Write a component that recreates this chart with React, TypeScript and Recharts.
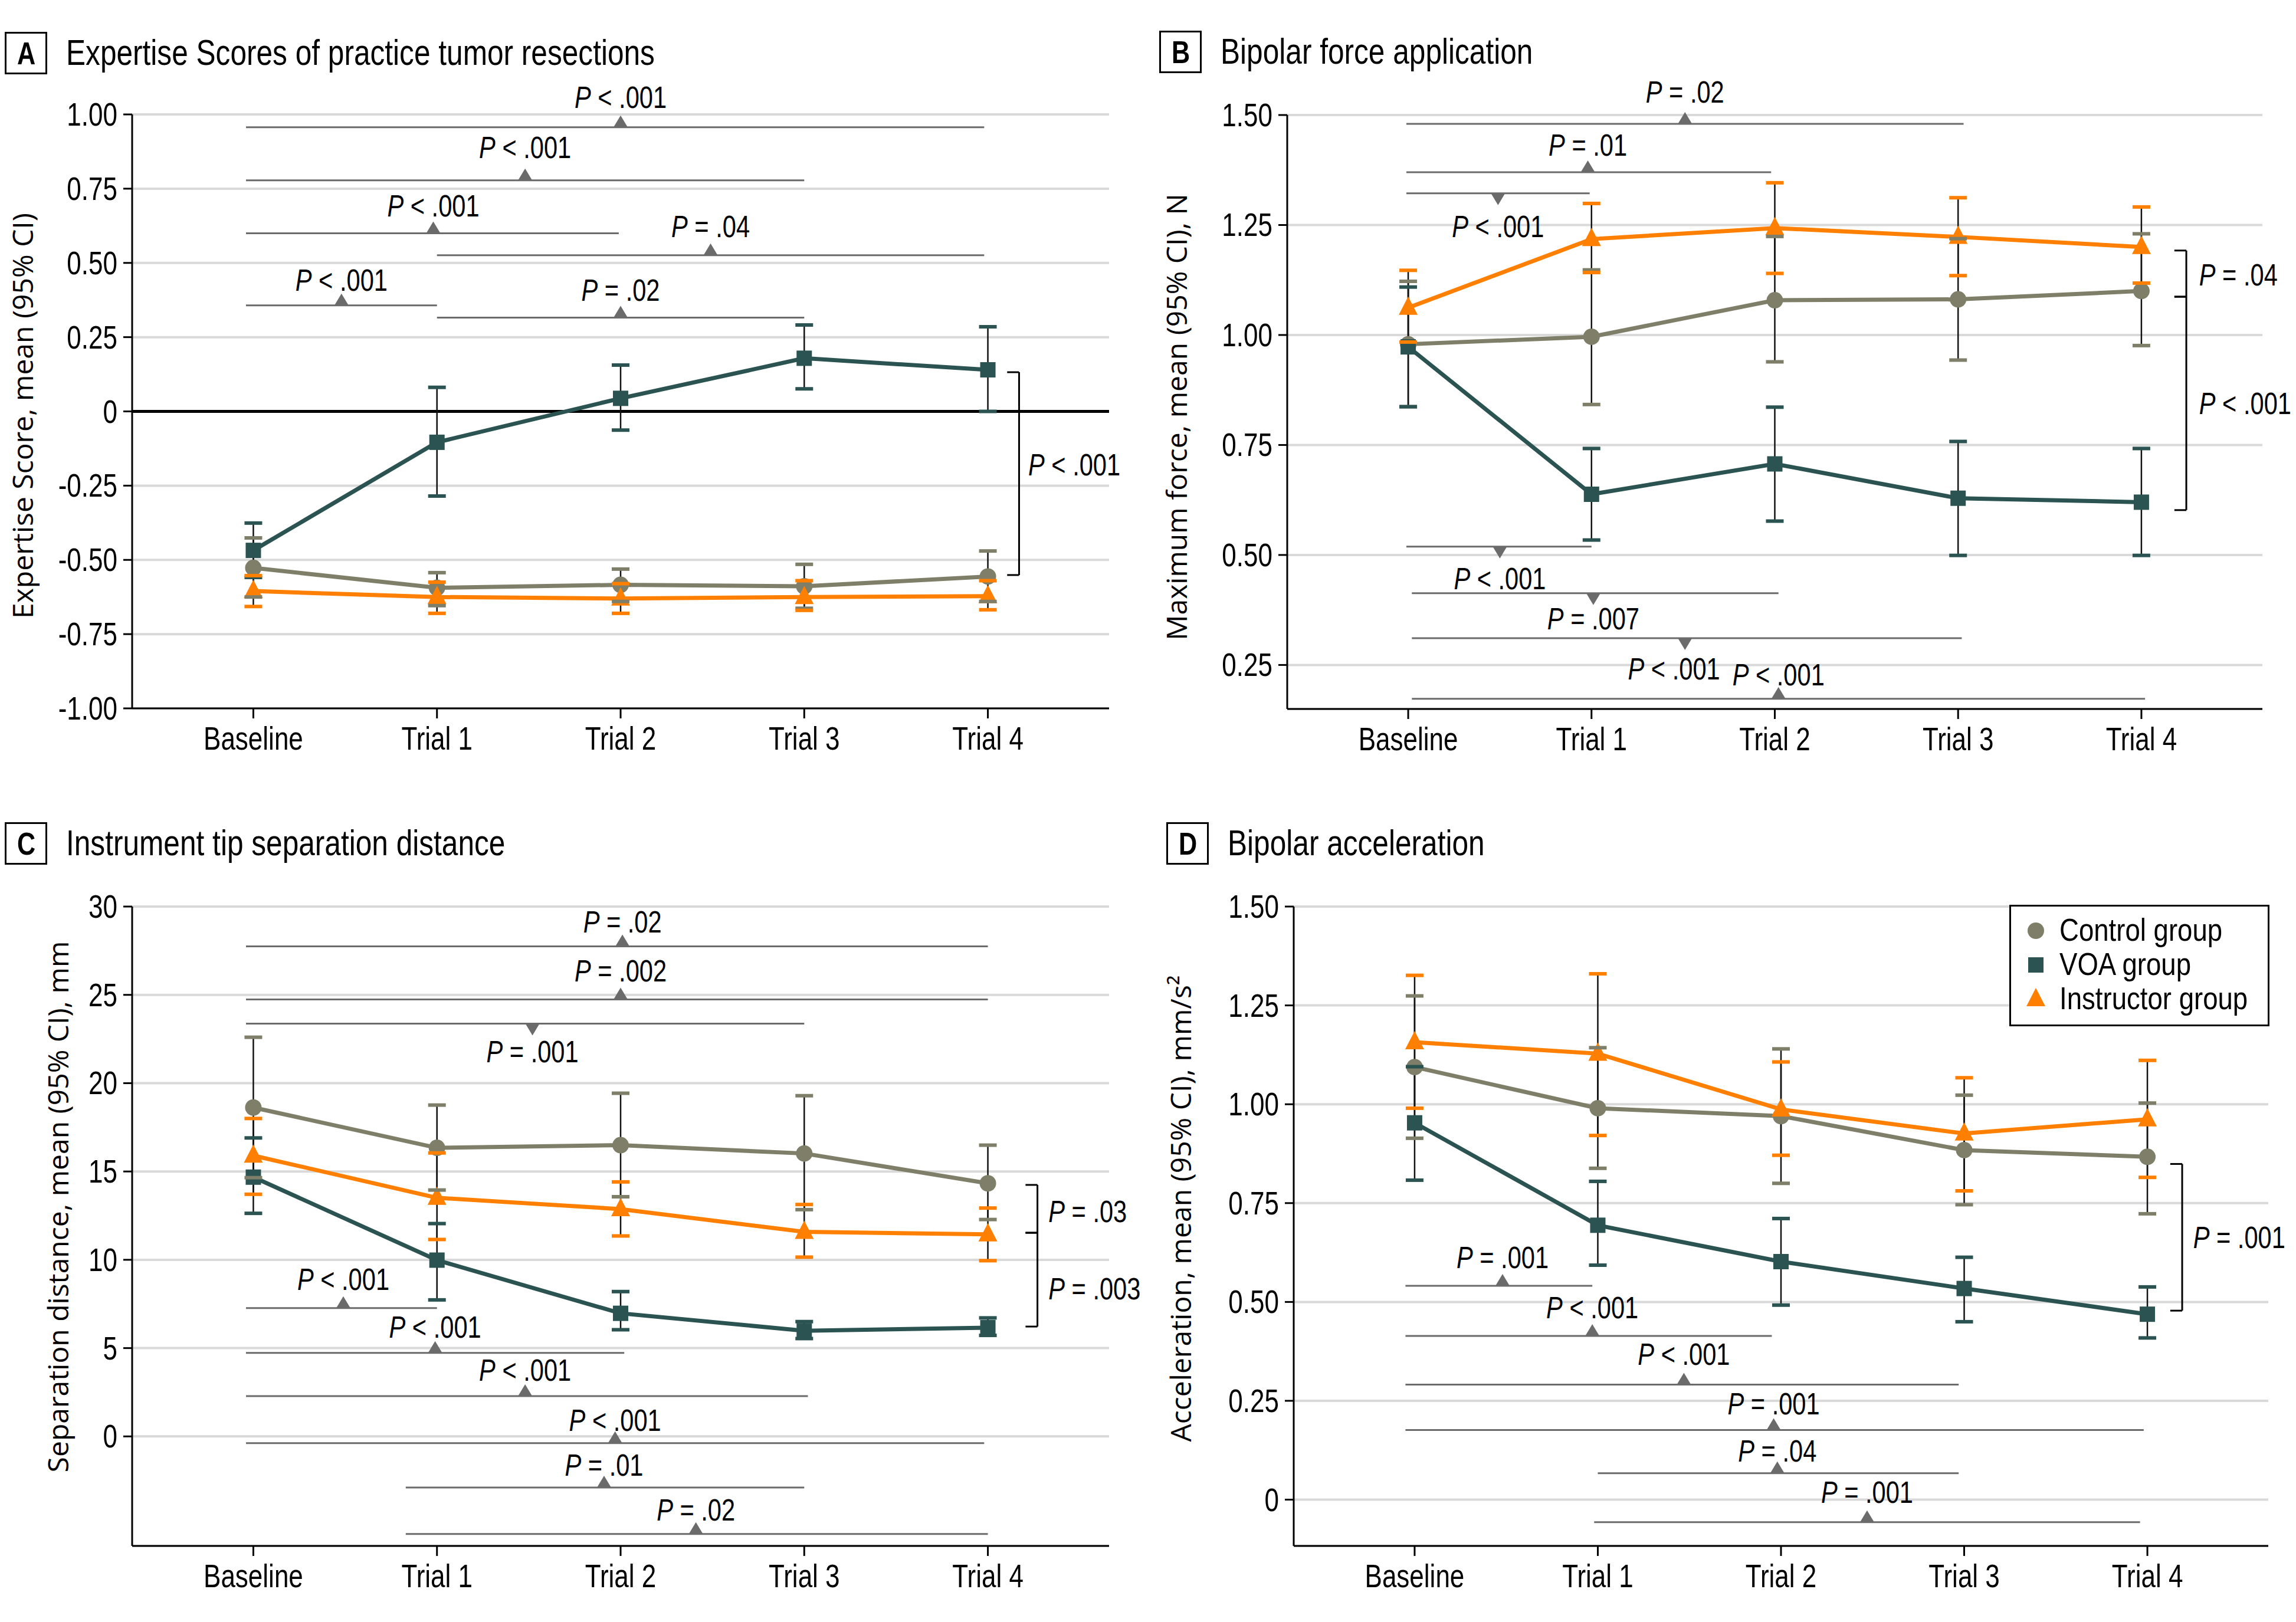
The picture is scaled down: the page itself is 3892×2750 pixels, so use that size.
import React from 'react';
import { ComposedChart, Line, XAxis, YAxis, CartesianGrid, ErrorBar, ReferenceLine, ReferenceDot, Legend } from 'recharts';

const SANS = "'Liberation Sans', Arial, sans-serif";
const WIDE = "'Open Sans', 'DejaVu Sans', sans-serif";
const SQUEEZE = 0.8; // the figure uses a condensed face

const CTL = '#7f7f69';
const VOA = '#2a5351';
const INS = '#ff8000';
const ANN = '#6b6b6b';

const trials = ['Baseline', 'Trial 1', 'Trial 2', 'Trial 3', 'Trial 4'];
const trialPos = [0, 1, 2, 3, 4];

// A - expertise score
const aCtl = [-0.527, -0.594, -0.584, -0.589, -0.556];
const aCtlLo = [-0.625, -0.654, -0.64, -0.663, -0.64];
const aCtlHi = [-0.426, -0.543, -0.531, -0.515, -0.47];
const aVoa = [-0.468, -0.104, 0.044, 0.179, 0.14];
const aVoaLo = [-0.559, -0.285, -0.063, 0.076, 0.0];
const aVoaHi = [-0.376, 0.081, 0.156, 0.291, 0.285];
const aIns = [-0.605, -0.625, -0.63, -0.625, -0.622];
const aInsLo = [-0.657, -0.68, -0.68, -0.67, -0.668];
const aInsHi = [-0.553, -0.575, -0.58, -0.57, -0.57];
const aTicks = [-1, -0.75, -0.5, -0.25, 0, 0.25, 0.5, 0.75, 1];
const aBars = [
  { x1: -0.04, x2: 3.98, y: 0.957, tx: 2.0, dir: 'up', ly: 1.06, t: ' < .001' },
  { x1: -0.04, x2: 3.0, y: 0.778, tx: 1.48, dir: 'up', ly: 0.89, t: ' < .001' },
  { x1: -0.04, x2: 1.99, y: 0.6, tx: 0.98, dir: 'up', ly: 0.694, t: ' < .001' },
  { x1: 1.0, x2: 3.98, y: 0.526, tx: 2.49, dir: 'up', ly: 0.625, t: ' = .04' },
  { x1: -0.04, x2: 1.0, y: 0.357, tx: 0.48, dir: 'up', ly: 0.444, t: ' < .001' },
  { x1: 1.0, x2: 3.0, y: 0.316, tx: 2.0, dir: 'up', ly: 0.411, t: ' = .02' },
];
const aBrackets = [{ x: 4.17, y1: 0.132, y2: -0.551, lx: 4.22, ly: -0.178, t: ' < .001' }];

// B - bipolar force
const bCtl = [0.979, 0.996, 1.079, 1.081, 1.1];
const bCtlLo = [0.837, 0.842, 0.939, 0.943, 0.976];
const bCtlHi = [1.122, 1.148, 1.224, 1.219, 1.23];
const bVoa = [0.973, 0.638, 0.707, 0.629, 0.62];
const bVoaLo = [0.837, 0.534, 0.577, 0.499, 0.499];
const bVoaHi = [1.109, 0.742, 0.836, 0.758, 0.742];
const bIns = [1.062, 1.218, 1.243, 1.223, 1.2];
const bInsLo = [0.984, 1.142, 1.14, 1.135, 1.118];
const bInsHi = [1.147, 1.299, 1.346, 1.312, 1.291];
const bTicks = [0.25, 0.5, 0.75, 1, 1.25, 1.5];
const bBars = [
  { x1: -0.01, x2: 3.03, y: 1.48, tx: 1.51, dir: 'up', ly: 1.553, t: ' = .02' },
  { x1: -0.01, x2: 1.98, y: 1.37, tx: 0.98, dir: 'up', ly: 1.433, t: ' = .01' },
  { x1: -0.01, x2: 0.99, y: 1.322, tx: 0.49, dir: 'down', ly: 1.248, t: ' < .001' },
  { x1: -0.01, x2: 1.0, y: 0.519, tx: 0.5, dir: 'down', ly: 0.448, t: ' < .001' },
  { x1: 0.02, x2: 2.02, y: 0.413, tx: 1.01, dir: 'down', ly: 0.357, t: ' = .007' },
  { x1: 0.02, x2: 3.02, y: 0.311, tx: 1.51, dir: 'down', lx: 1.45, ly: 0.243, t: ' < .001' },
  { x1: 0.02, x2: 4.02, y: 0.173, tx: 2.02, dir: 'up', ly: 0.229, t: ' < .001' },
];
const bBrackets = [
  { x: 4.245, y1: 1.192, y2: 1.087, lx: 4.315, ly: 1.138, t: ' = .04' },
  { x: 4.245, y1: 1.087, y2: 0.602, lx: 4.315, ly: 0.846, t: ' < .001' },
];

// C - tip separation distance
const cCtl = [18.62, 16.34, 16.49, 16.02, 14.33];
const cCtlLo = [14.65, 13.95, 13.57, 12.84, 12.28];
const cCtlHi = [22.6, 18.76, 19.43, 19.29, 16.49];
const cVoa = [14.68, 9.98, 6.97, 5.98, 6.16];
const cVoaLo = [12.63, 7.73, 6.04, 5.54, 5.72];
const cVoaHi = [16.9, 12.05, 8.2, 6.5, 6.71];
const cIns = [15.9, 13.51, 12.87, 11.58, 11.44];
const cInsLo = [13.71, 11.15, 11.35, 10.15, 9.95];
const cInsHi = [18.0, 16.05, 14.41, 13.13, 12.93];
const cTicks = [0, 5, 10, 15, 20, 25, 30];
const cBars = [
  { x1: -0.04, x2: 4.0, y: 27.75, tx: 2.01, dir: 'up', ly: 29.18, t: ' = .02' },
  { x1: -0.04, x2: 4.0, y: 24.74, tx: 2.0, dir: 'up', ly: 26.4, t: ' = .002' },
  { x1: -0.04, x2: 3.0, y: 23.37, tx: 1.52, dir: 'down', ly: 21.83, t: ' = .001' },
  { x1: -0.04, x2: 1.0, y: 7.27, tx: 0.49, dir: 'up', ly: 8.93, t: ' < .001' },
  { x1: -0.04, x2: 2.02, y: 4.73, tx: 0.99, dir: 'up', ly: 6.22, t: ' < .001' },
  { x1: -0.04, x2: 3.02, y: 2.28, tx: 1.48, dir: 'up', ly: 3.79, t: ' < .001' },
  { x1: -0.04, x2: 3.98, y: -0.38, tx: 1.97, dir: 'up', ly: 0.96, t: ' < .001' },
  { x1: 0.83, x2: 3.0, y: -2.89, tx: 1.91, dir: 'up', ly: -1.58, t: ' = .01' },
  { x1: 0.83, x2: 4.0, y: -5.52, tx: 2.41, dir: 'up', ly: -4.14, t: ' = .02' },
];
const cBrackets = [
  { x: 4.27, y1: 14.24, y2: 11.53, lx: 4.33, ly: 12.78, t: ' = .03' },
  { x: 4.27, y1: 11.53, y2: 6.22, lx: 4.33, ly: 8.4, t: ' = .003' },
];

// D - bipolar acceleration
const dCtl = [1.094, 0.99, 0.97, 0.884, 0.867];
const dCtlLo = [0.914, 0.838, 0.8, 0.746, 0.723];
const dCtlHi = [1.274, 1.143, 1.14, 1.023, 1.003];
const dVoa = [0.953, 0.694, 0.602, 0.534, 0.469];
const dVoaLo = [0.808, 0.593, 0.492, 0.45, 0.409];
const dVoaHi = [1.095, 0.805, 0.711, 0.613, 0.538];
const dIns = [1.157, 1.128, 0.987, 0.926, 0.962];
const dInsLo = [0.99, 0.921, 0.871, 0.781, 0.815];
const dInsHi = [1.326, 1.33, 1.107, 1.067, 1.111];
const dTicks = [0, 0.25, 0.5, 0.75, 1, 1.25, 1.5];
const dBars = [
  { x1: -0.05, x2: 0.97, y: 0.541, tx: 0.48, dir: 'up', ly: 0.614, t: ' = .001' },
  { x1: -0.05, x2: 1.95, y: 0.414, tx: 0.97, dir: 'up', ly: 0.487, t: ' < .001' },
  { x1: -0.05, x2: 2.97, y: 0.291, tx: 1.47, dir: 'up', ly: 0.369, t: ' < .001' },
  { x1: -0.05, x2: 3.98, y: 0.176, tx: 1.96, dir: 'up', ly: 0.244, t: ' = .001' },
  { x1: 1.0, x2: 2.97, y: 0.067, tx: 1.98, dir: 'up', ly: 0.124, t: ' = .04' },
  { x1: 0.98, x2: 3.96, y: -0.057, tx: 2.47, dir: 'up', ly: 0.02, t: ' = .001' },
];
const dBrackets = [{ x: 4.19, y1: 0.849, y2: 0.478, lx: 4.25, ly: 0.664, t: ' = .001' }];

const groups = [
  { key: 'ctl', name: 'Control group', color: CTL, shape: 'circle' },
  { key: 'voa', name: 'VOA group', color: VOA, shape: 'square' },
  { key: 'ins', name: 'Instructor group', color: INS, shape: 'triangle' },
];

function buildRows(ctl, ctlLo, ctlHi, voa, voaLo, voaHi, ins, insLo, insHi) {
  return trialPos.map((x, i) => ({
    x,
    ctl: ctl[i], ctlLo: ctlLo[i], ctlHi: ctlHi[i], ctlErr: [ctl[i] - ctlLo[i], ctlHi[i] - ctl[i]],
    voa: voa[i], voaLo: voaLo[i], voaHi: voaHi[i], voaErr: [voa[i] - voaLo[i], voaHi[i] - voa[i]],
    ins: ins[i], insLo: insLo[i], insHi: insHi[i], insErr: [ins[i] - insLo[i], insHi[i] - ins[i]],
  }));
}

// condensed svg text: baseline at y
function CText({ x, y, anchor = 'middle', size, children }) {
  return (
    <text transform={`translate(${x},${y}) scale(${SQUEEZE},1)`} textAnchor={anchor} fontFamily={SANS} fontSize={size} fill="#000">
      {children}
    </text>
  );
}

function markerPath(shape, cx, cy, color, k) {
  if (shape === 'circle') return <circle key={k} cx={cx} cy={cy} r={14} fill={color} />;
  if (shape === 'square') return <rect key={k} x={cx - 13} y={cy - 13} width={26} height={26} fill={color} />;
  return <polygon key={k} points={`${cx},${cy - 19} ${cx - 16},${cy + 12} ${cx + 16},${cy + 12}`} fill={color} />;
}

const markerDot = (shape, color) => (p) => {
  if (p.cx == null || p.cy == null) return <g key={`m${p.index}`} />;
  return markerPath(shape, p.cx, p.cy, color, `m${p.index}`);
};

const capDot = (color) => (p) => {
  if (p.cx == null || p.cy == null) return <g key={`c${p.index}`} />;
  return <rect key={`c${p.index}`} x={p.cx - 15} y={p.cy - 3} width={30} height={6} fill={color} />;
};

const tri = (dir) => (p) =>
  dir === 'up'
    ? <polygon points={`${p.cx - 12},${p.cy} ${p.cx + 12},${p.cy} ${p.cx},${p.cy - 20}`} fill={ANN} />
    : <polygon points={`${p.cx - 12},${p.cy} ${p.cx + 12},${p.cy} ${p.cx},${p.cy + 20}`} fill={ANN} />;

const pText = (t, anchor) => (p) => (
  <CText x={p.cx} y={p.cy + 19} anchor={anchor} size={52}>
    <tspan fontStyle="italic">P</tspan>{t}
  </CText>
);

const xTick = (p) => (
  <CText x={p.x} y={p.y + 39} anchor="middle" size={55}>{trials[p.payload.value]}</CText>
);

const yTick = (fmt) => (p) => (
  <CText x={p.x} y={p.y + 19} anchor="end" size={55}>{fmt(p.payload.value)}</CText>
);

function LegendBox() {
  return (
    <div style={{ width: 441, height: 206, border: '3px solid #000', boxSizing: 'border-box', background: '#fff', paddingTop: 11, paddingLeft: 22 }}>
      {groups.map((g, i) => (
        <div key={g.key} style={{ display: 'flex', alignItems: 'center', height: 58, whiteSpace: 'nowrap' }}>
          <svg width={40} height={40} style={{ flexShrink: 0, display: 'block' }}>
            {markerPath(g.shape, 20, 21, g.color, 'lg' + i)}
          </svg>
          <span style={{ marginLeft: 20, fontFamily: SANS, fontSize: 53, color: '#000', lineHeight: '58px',
            display: 'inline-block', transform: 'scaleX(0.86)', transformOrigin: 'left center' }}>{g.name}</span>
        </div>
      ))}
    </div>
  );
}

function Panel({ left, top, width, height, margin, rows, domain, ticks, fmt, yLabel, labelX, labelY, bars, brackets, zero, legend }) {
  const yLabelContent = () => (
    <text x={labelX} y={labelY} transform={`rotate(-90 ${labelX} ${labelY})`} textAnchor="middle" dominantBaseline="central" fontFamily={WIDE} fontSize={48} fill="#000">
      {yLabel}
    </text>
  );
  return (
    <div style={{ position: 'absolute', left, top }}>
      <ComposedChart width={width} height={height} data={rows} margin={margin}>
        <CartesianGrid vertical={false} stroke="#d9d9d9" strokeWidth={4} />
        <XAxis type="number" dataKey="x" domain={[-0.66, 4.66]} ticks={trialPos} interval={0}
          tick={xTick} tickSize={17} tickMargin={14}
          stroke="#000" strokeWidth={3} height={100} allowDataOverflow />
        <YAxis type="number" domain={domain} ticks={ticks} interval={0}
          tick={yTick(fmt)} tickSize={15} tickMargin={10} stroke="#000" strokeWidth={3} width={120}
          allowDataOverflow label={yLabelContent} />
        {zero && <ReferenceLine y={0} stroke="#000" strokeWidth={5} />}
        {bars.flatMap((b, i) => [
          <ReferenceLine key={`bl${i}`} segment={[{ x: b.x1, y: b.y }, { x: b.x2, y: b.y }]} stroke={ANN} strokeWidth={3} ifOverflow="visible" />,
          <ReferenceDot key={`bt${i}`} x={b.tx} y={b.y} r={0} ifOverflow="visible" shape={tri(b.dir)} />,
          <ReferenceDot key={`bp${i}`} x={b.lx ?? b.tx} y={b.ly} r={0} ifOverflow="visible" shape={pText(b.t, 'middle')} />,
        ])}
        {brackets.flatMap((k, i) => [
          <ReferenceLine key={`kv${i}`} segment={[{ x: k.x, y: k.y1 }, { x: k.x, y: k.y2 }]} stroke="#000" strokeWidth={3} ifOverflow="visible" />,
          <ReferenceLine key={`k1${i}`} segment={[{ x: k.x - 0.065, y: k.y1 }, { x: k.x, y: k.y1 }]} stroke="#000" strokeWidth={3} ifOverflow="visible" />,
          <ReferenceLine key={`k2${i}`} segment={[{ x: k.x - 0.065, y: k.y2 }, { x: k.x, y: k.y2 }]} stroke="#000" strokeWidth={3} ifOverflow="visible" />,
          <ReferenceDot key={`kp${i}`} x={k.lx} y={k.ly} r={0} ifOverflow="visible" shape={pText(k.t, 'start')} />,
        ])}
        {groups.map((g) => (
          <Line key={g.key} dataKey={g.key} name={g.name} stroke={g.color} strokeWidth={7}
            dot={markerDot(g.shape, g.color)} activeDot={false} isAnimationActive={false}>
            <ErrorBar dataKey={`${g.key}Err`} direction="y" width={0} stroke="#111" strokeWidth={2.5} />
          </Line>
        ))}
        {groups.flatMap((g) => [
          <Line key={`${g.key}Lo`} dataKey={`${g.key}Lo`} stroke="none" legendType="none"
            dot={capDot(g.color)} activeDot={false} isAnimationActive={false} />,
          <Line key={`${g.key}Hi`} dataKey={`${g.key}Hi`} stroke="none" legendType="none"
            dot={capDot(g.color)} activeDot={false} isAnimationActive={false} />,
        ])}
        {legend && (
          <Legend layout="vertical" align="center" verticalAlign="middle" content={<LegendBox />}
            wrapperStyle={{ left: legend.left, top: legend.top, width: 441, height: 206 }} />
        )}
      </ComposedChart>
    </div>
  );
}

function Title({ left, top, letter, text }) {
  return (
    <>
      <div style={{ position: 'absolute', left, top, width: 72, height: 72, border: '3px solid #000', boxSizing: 'border-box',
        display: 'flex', alignItems: 'center', justifyContent: 'center', fontFamily: SANS, fontWeight: 'bold', fontSize: 54 }}>
        <span style={{ display: 'inline-block', transform: `scaleX(${SQUEEZE})` }}>{letter}</span>
      </div>
      <div style={{ position: 'absolute', left: left + 104, top: top - 5, fontFamily: SANS, fontSize: 62, lineHeight: '80px',
        whiteSpace: 'nowrap', transform: 'scaleX(0.8)', transformOrigin: 'left center' }}>
        {text}
      </div>
    </>
  );
}

const fmt2 = (v) => (v === 0 ? '0' : v.toFixed(2));
const fmtInt = (v) => String(v);

export default function App() {
  return (
    <div style={{ position: 'absolute', left: 0, top: 0, width: 3892, height: 2750, background: '#fff' }}>
      <Title left={8} top={54} letter="A" text="Expertise Scores of practice tumor resections" />
      <Title left={1965} top={52} letter="B" text="Bipolar force application" />
      <Title left={8} top={1394} letter="C" text="Instrument tip separation distance" />
      <Title left={1977} top={1394} letter="D" text="Bipolar acceleration" />
      <Panel left={0} top={0} width={1950} height={1340}
        margin={{ top: 194, right: 70, bottom: 39, left: 104 }}
        rows={buildRows(aCtl, aCtlLo, aCtlHi, aVoa, aVoaLo, aVoaHi, aIns, aInsLo, aInsHi)}
        domain={[-1, 1]} ticks={aTicks} fmt={fmt2} yLabel="Expertise Score, mean (95% CI)" labelX={37} labelY={705}
        bars={aBars} brackets={aBrackets} zero />
      <Panel left={1950} top={0} width={1942} height={1340}
        margin={{ top: 195, right: 57, bottom: 38, left: 112 }}
        rows={buildRows(bCtl, bCtlLo, bCtlHi, bVoa, bVoaLo, bVoaHi, bIns, bInsLo, bInsHi)}
        domain={[0.15, 1.5]} ticks={bTicks} fmt={(v) => v.toFixed(2)} yLabel="Maximum force, mean (95% CI), N" labelX={43} labelY={707}
        bars={bBars} brackets={bBrackets} />
      <Panel left={0} top={1380} width={1950} height={1370}
        margin={{ top: 157, right: 70, bottom: 29, left: 104 }}
        rows={buildRows(cCtl, cCtlLo, cCtlHi, cVoa, cVoaLo, cVoaHi, cIns, cInsLo, cInsHi)}
        domain={[-6.2, 30]} ticks={cTicks} fmt={fmtInt} yLabel="Separation distance, mean (95% CI), mm" labelX={97} labelY={666}
        bars={cBars} brackets={cBrackets} />
      <Panel left={1950} top={1380} width={1942} height={1370}
        margin={{ top: 157, right: 47, bottom: 29, left: 123 }}
        rows={buildRows(dCtl, dCtlLo, dCtlHi, dVoa, dVoaLo, dVoaHi, dIns, dInsLo, dInsHi)}
        domain={[-0.117, 1.5]} ticks={dTicks} fmt={fmt2} yLabel="Acceleration, mean (95% CI), mm/s²" labelX={50} labelY={669}
        bars={dBars} brackets={dBrackets} legend={{ left: 1456, top: 154 }} />
    </div>
  );
}
